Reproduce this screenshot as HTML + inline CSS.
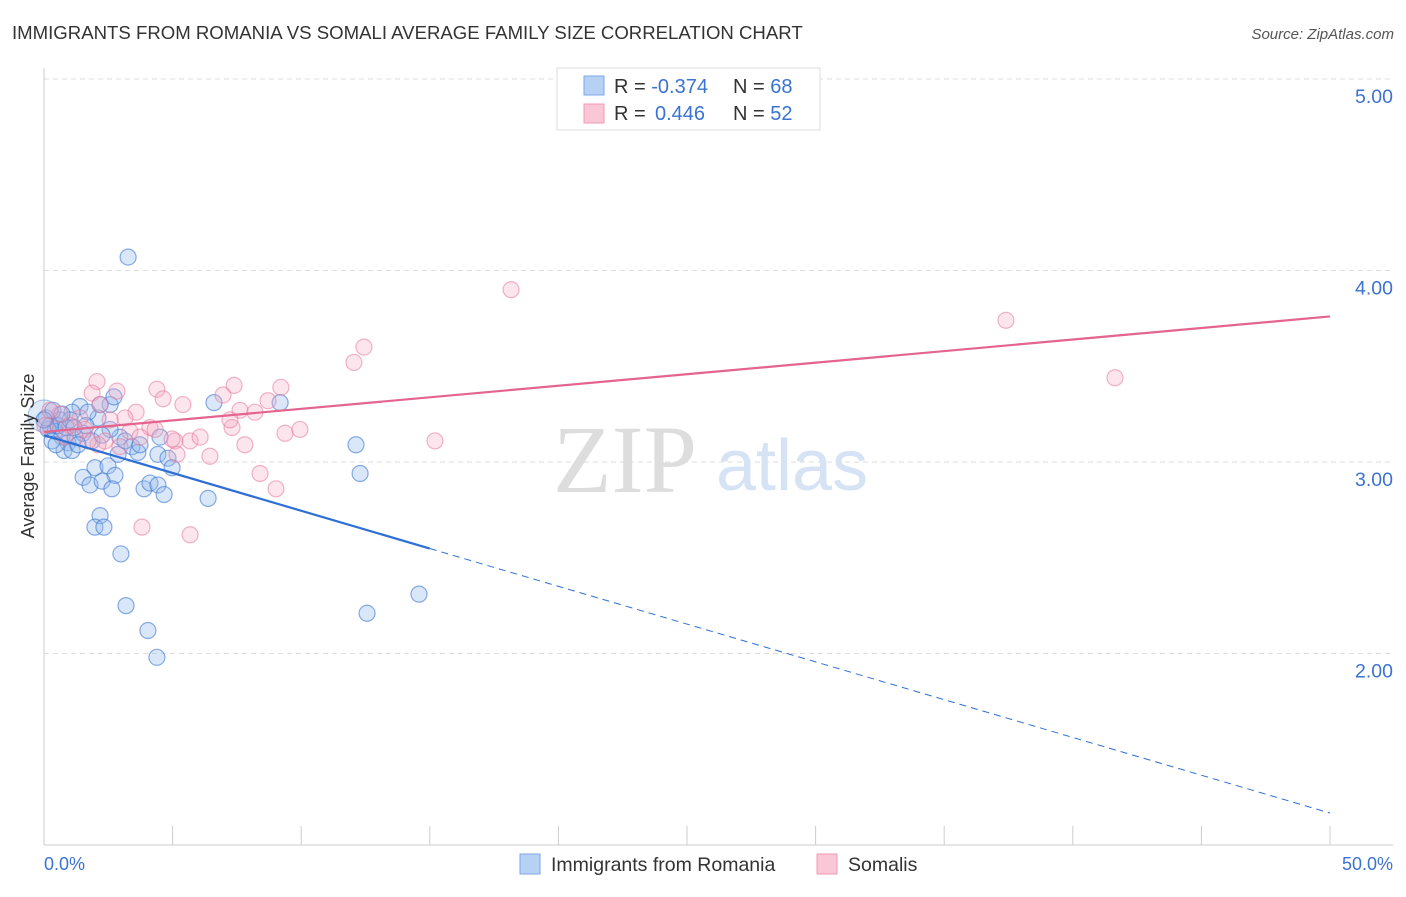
<!DOCTYPE html>
<html><head><meta charset="utf-8"><style>
body{margin:0;background:#fff;font-family:"Liberation Sans",sans-serif}
</style></head><body>
<svg width="1406" height="892" xmlns="http://www.w3.org/2000/svg">
<text x="12" y="39" font-size="18.6" fill="#333">IMMIGRANTS FROM ROMANIA VS SOMALI AVERAGE FAMILY SIZE CORRELATION CHART</text>
<text x="1394" y="39" font-size="15" fill="#555" font-style="italic" text-anchor="end">Source: ZipAtlas.com</text>
<g id="grid"></g>
<text x="553" y="492" font-size="96" fill="#ddd" font-family="Liberation Serif,serif">ZIP</text>
<text x="716" y="490" font-size="72" fill="#d5e3f5">atlas</text>
<g id="pts"></g>
<g id="lines"></g>
<text transform="translate(34,456) rotate(-90)" font-size="18" fill="#333" text-anchor="middle">Average Family Size</text>
<text x="44" y="870" font-size="18" fill="#3b73d1">0.0%</text>
<text x="1393" y="870" font-size="18" fill="#3b73d1" text-anchor="end">50.0%</text>
<g>
<rect x="557" y="68" width="263" height="62" fill="#fff" stroke="#ddd"/>
<rect x="584" y="76" width="20" height="19" fill="#b7d1f5" stroke="#7ea7e6"/>
<rect x="584" y="104" width="20" height="19" fill="#f9c7d6" stroke="#ef9bb5"/>
<text x="614" y="93" font-size="20" fill="#333">R = <tspan fill="#3b73d1">-0.374</tspan><tspan x="733">N = </tspan><tspan fill="#3b73d1">68</tspan></text>
<text x="614" y="120" font-size="20" fill="#333">R = <tspan x="655" fill="#3b73d1">0.446</tspan><tspan x="733">N = </tspan><tspan fill="#3b73d1">52</tspan></text>
</g>
<g>
<rect x="520" y="854" width="20" height="20" fill="#b7d1f5" stroke="#7ea7e6"/>
<text x="551" y="871" font-size="19.5" fill="#333">Immigrants from Romania</text>
<rect x="817" y="854" width="20" height="20" fill="#f9c7d6" stroke="#ef9bb5"/>
<text x="848" y="871" font-size="19.5" fill="#333">Somalis</text>
</g>
</svg>
<script>
const blueX=[3.27,6.61,9.18,2.57,2.72,1.40,1.09,2.10,1.71,0.62,0.23,0.43,0.70,0.93,1.21,0.78,1.09,1.52,2.95,3.42,3.65,4.51,4.43,4.82,4.98,1.98,2.49,2.76,1.52,1.79,2.26,2.64,3.89,4.12,4.43,4.67,6.38,2.18,1.98,2.33,2.99,3.19,4.04,4.39,12.13,12.29,12.56,14.58,0.16,0.31,0.54,0.86,1.63,1.87,2.57,0.08,0.35,1.01,1.32,3.15,3.73,0.47,2.18,0.70,0,1.17,2.26,2.88];
const blueY=[4.07,3.31,3.31,3.30,3.34,3.29,3.26,3.23,3.26,3.22,3.19,3.16,3.13,3.10,3.13,3.06,3.06,3.15,3.13,3.08,3.05,3.13,3.04,3.02,2.97,2.97,2.98,2.93,2.92,2.88,2.90,2.86,2.86,2.89,2.88,2.83,2.81,2.72,2.66,2.66,2.52,2.25,2.12,1.98,3.09,2.94,2.21,2.31,3.17,3.11,3.19,3.18,3.19,3.11,3.17,3.23,3.27,3.22,3.09,3.11,3.09,3.09,3.30,3.25,3.22,3.18,3.14,3.04];
const pinkX=[18.16,37.40,41.64,12.44,12.05,2.06,2.84,1.87,4.39,7.39,9.21,6.96,4.63,5.40,8.71,7.62,8.20,3.58,3.15,1.40,2.57,3.34,4.12,4.32,5.09,5.68,6.07,7.31,9.37,9.95,15.20,7.81,2.37,2.10,2.95,5.17,6.45,8.40,9.02,3.81,5.68,0.62,1.01,1.59,0.23,0.82,3.73,4.98,1.71,2.18,0.04,7.23];
const pinkY=[3.90,3.74,3.44,3.60,3.52,3.42,3.37,3.36,3.38,3.40,3.39,3.35,3.33,3.30,3.32,3.27,3.26,3.26,3.23,3.23,3.22,3.16,3.18,3.17,3.11,3.11,3.13,3.18,3.15,3.17,3.11,3.09,3.11,3.09,3.08,3.04,3.03,2.94,2.86,2.66,2.62,3.25,3.19,3.17,3.27,3.13,3.13,3.12,3.11,3.30,3.19,3.22];
const yTicks=[5,4,3,2];
const xTicks=[0,5,10,15,20,25,30,35,40,45,50];
const blueTrend=[3.14,1.167];
const pinkTrend=[3.157,3.76];
const sx=v=>44+v*25.72, sy=v=>462-(v-3)*191.5;
const NS="http://www.w3.org/2000/svg";
function mk(t,a,p){const e=document.createElementNS(NS,t);for(const k in a)e.setAttribute(k,a[k]);p.appendChild(e);return e;}
const g=document.getElementById('grid');
yTicks.forEach(v=>{
const l=mk('line',{x1:44,x2:1393,y1:sy(v),y2:sy(v),stroke:'#ddd','stroke-dasharray':'5,4'},g);


const t=mk('text',{x:1393,y:sy(v)+24,'font-size':19.5,fill:'#3b73d1','text-anchor':'end'},g);
t.textContent=v.toFixed(2);


});
xTicks.forEach(v=>{
const l=mk('line',{x1:sx(v),x2:sx(v),y1:826,y2:845,stroke:'#ccc'},g);


});
mk('line',{x1:44,x2:44,y1:68,y2:845,stroke:'#ccc'},g);
mk('line',{x1:44,x2:1393,y1:845,y2:845,stroke:'#ccc'},g);
const p=document.getElementById('pts');
const big1=mk('circle',{cx:sx(0),cy:sy(3.24),r:16,fill:'rgba(150,185,235,0.3)',stroke:'rgba(60,120,210,0.45)'},p);


blueX.forEach((x,i)=>{
const c=mk('circle',{cx:sx(x),cy:sy(blueY[i]),r:8,fill:'rgba(150,185,235,0.35)',stroke:'rgba(60,120,210,0.6)','stroke-width':1.2},p);


});
pinkX.forEach((x,i)=>{
const c=mk('circle',{cx:sx(x),cy:sy(pinkY[i]),r:8,fill:'rgba(245,170,195,0.3)',stroke:'rgba(230,120,155,0.55)','stroke-width':1.2},p);


});
const L=document.getElementById('lines');
const by=x=>blueTrend[0]+(blueTrend[1]-blueTrend[0])*x/50;
const b1=mk('line',{x1:sx(0),y1:sy(by(0)),x2:sx(15),y2:sy(by(15)),stroke:'#2e6fd6','stroke-width':2.2},L);


const b2=mk('line',{x1:sx(15),y1:sy(by(15)),x2:sx(50),y2:sy(by(50)),stroke:'#2e6fd6','stroke-width':1,'stroke-dasharray':'7,5'},L);


const p1=mk('line',{x1:sx(0),y1:sy(pinkTrend[0]),x2:sx(50),y2:sy(pinkTrend[1]),stroke:'#e4648e','stroke-width':2.2},L);


</script>
</body></html>
